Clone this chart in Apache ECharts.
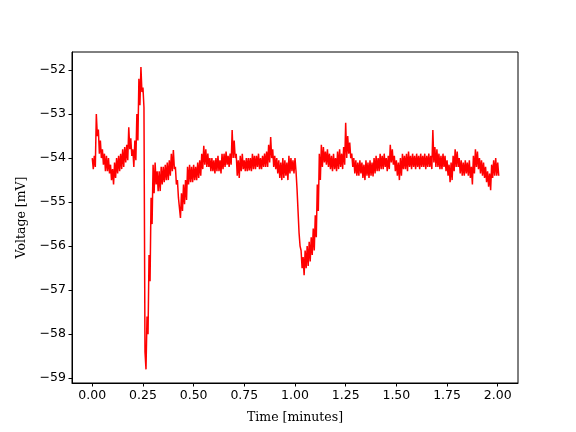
<!DOCTYPE html>
<html>
<head>
<meta charset="utf-8">
<script src="https://cdn.jsdelivr.net/npm/echarts@6/dist/echarts.min.js"></script>
<style>html,body{margin:0;padding:0;background:#fff}#c{width:576px;height:432px}</style>
</head>
<body>
<div id="c"></div>
<script>
// Time samples start at 0 and step by 0.01 minutes
const timeStart = 0;
const timeStep = 0.01;
// Upper edge of the noisy voltage trace (mV), one per time sample
const voltageHigh = [
-54.0,-53.95,-53.0,-53.35,-53.6,-53.8,-53.9,-53.95,-54.0,-54.15,
-54.25,-54.1,-54.0,-53.95,-53.9,-53.8,-53.75,-53.7,-53.3,-53.55,
-53.8,-53.6,-53.0,-52.2,-51.93,-52.4,-58.4,-57.6,-56.2,-54.9,
-54.15,-54.1,-54.3,-54.3,-54.2,-54.2,-54.15,-54.1,-54.05,-53.9,
-53.82,-54.2,-54.5,-54.9,-54.8,-54.6,-54.5,-54.2,-54.15,-54.2,
-54.15,-54.2,-54.1,-54.05,-53.9,-53.72,-53.8,-53.9,-54.0,-54.0,
-54.05,-54.0,-53.95,-54.05,-53.9,-53.9,-53.85,-53.95,-53.9,-53.36,
-53.6,-53.9,-54.05,-53.95,-53.9,-54.05,-54.0,-54.0,-54.0,-53.9,
-53.95,-53.95,-53.9,-54.0,-53.95,-53.9,-53.85,-53.7,-53.52,-53.8,
-53.95,-54.0,-54.05,-54.1,-54.0,-54.05,-54.1,-53.95,-54.0,-54.05,
-54.0,-54.7,-55.7,-56.1,-56.25,-56.1,-56.0,-55.9,-55.8,-55.6,
-55.3,-54.6,-53.9,-53.7,-53.75,-53.85,-53.8,-53.9,-53.95,-53.9,
-54.0,-53.85,-53.8,-53.9,-53.75,-53.2,-53.5,-53.65,-53.9,-54.0,
-54.05,-54.1,-54.05,-54.1,-54.15,-54.05,-54.1,-54.05,-54.1,-54.0,
-53.95,-54.0,-53.9,-53.95,-53.9,-54.0,-53.95,-53.7,-53.8,-53.95,
-54.05,-54.1,-54.0,-53.9,-53.95,-53.9,-53.85,-53.95,-53.9,-53.95,
-53.9,-53.95,-53.9,-53.95,-53.9,-53.95,-53.9,-53.95,-53.36,-53.75,
-53.8,-53.9,-53.95,-53.9,-53.95,-54.05,-54.15,-54.1,-53.95,-53.8,
-53.85,-54.0,-54.05,-54.1,-54.05,-54.1,-54.05,-54.2,-53.95,-53.8,
-53.85,-54.0,-54.05,-54.1,-54.2,-54.3,-54.35,-54.15,-54.05,-54.0,
-54.1
];
// Lower edge of the noisy voltage trace (mV), one per time sample
const voltageLow = [
-54.25,-54.2,-53.5,-53.9,-54.0,-54.15,-54.3,-54.3,-54.35,-54.5,
-54.6,-54.45,-54.35,-54.3,-54.25,-54.2,-54.1,-54.05,-53.8,-53.95,
-54.2,-54.05,-53.6,-52.8,-52.5,-52.85,-58.8,-58.0,-56.8,-55.5,
-54.8,-54.6,-54.75,-54.75,-54.6,-54.55,-54.5,-54.5,-54.4,-54.3,
-54.25,-54.6,-54.9,-55.36,-55.2,-55.05,-54.95,-54.6,-54.55,-54.55,
-54.5,-54.5,-54.45,-54.4,-54.25,-54.15,-54.2,-54.2,-54.3,-54.3,
-54.35,-54.3,-54.3,-54.35,-54.25,-54.2,-54.15,-54.2,-54.15,-54.0,
-54.0,-54.4,-54.45,-54.3,-54.25,-54.3,-54.3,-54.28,-54.3,-54.25,
-54.25,-54.2,-54.25,-54.25,-54.2,-54.2,-54.2,-54.1,-54.0,-54.2,
-54.25,-54.35,-54.45,-54.5,-54.45,-54.4,-54.5,-54.35,-54.3,-54.35,
-54.3,-55.2,-56.0,-56.5,-56.66,-56.5,-56.45,-56.35,-56.2,-56.1,
-55.8,-55.2,-54.5,-54.2,-54.1,-54.15,-54.2,-54.25,-54.3,-54.25,
-54.3,-54.25,-54.2,-54.25,-54.15,-54.0,-53.9,-54.0,-54.2,-54.35,
-54.4,-54.4,-54.35,-54.45,-54.5,-54.4,-54.45,-54.4,-54.42,-54.35,
-54.3,-54.3,-54.25,-54.25,-54.2,-54.3,-54.25,-54.1,-54.15,-54.3,
-54.4,-54.5,-54.4,-54.25,-54.25,-54.3,-54.2,-54.25,-54.2,-54.25,
-54.2,-54.25,-54.2,-54.2,-54.25,-54.2,-54.2,-54.25,-54.1,-54.2,
-54.2,-54.25,-54.25,-54.2,-54.3,-54.4,-54.55,-54.5,-54.3,-54.2,
-54.2,-54.35,-54.4,-54.4,-54.35,-54.4,-54.45,-54.6,-54.35,-54.2,
-54.25,-54.35,-54.4,-54.45,-54.55,-54.65,-54.73,-54.45,-54.4,-54.4,
-54.4
];
// Tick labels
const xTicks = [0, 0.25, 0.5, 0.75, 1.0, 1.25, 1.5, 1.75, 2.0];
const yTicks = [-59, -58, -57, -56, -55, -54, -53, -52];

const traceData = [];
for (let i = 0; i < voltageHigh.length; i++) {
  const t = timeStart + i * timeStep;
  traceData.push([t, voltageHigh[i]]);
  traceData.push([t + timeStep / 2, voltageLow[i]]);
}

const tickFont = {fontFamily: 'DejaVu Sans', fontSize: 12.5, color: '#000'};
const nameFont = {fontFamily: 'DejaVu Serif', fontSize: 12.5, color: '#000'};
const chart = echarts.init(document.getElementById('c'), null, {renderer: 'canvas'});
chart.setOption({
  animation: false,
  backgroundColor: '#fff',
  grid: {left: 72, right: 58, top: 52, bottom: 49, show: true, borderColor: '#000', borderWidth: 1, backgroundColor: 'transparent'},
  xAxis: {
    type: 'value', min: -0.1, max: 2.1,
    name: 'Time [minutes]', nameLocation: 'middle', nameGap: 28,
    nameTextStyle: nameFont,
    axisLine: {show: true, onZero: false, lineStyle: {color: '#000', width: 1}},
    axisTick: {show: true, length: 3.5, inside: false, customValues: xTicks, lineStyle: {color: '#000', width: 1}},
    axisLabel: Object.assign({show: true, margin: 6, customValues: xTicks, formatter: v => v.toFixed(2)}, tickFont),
    splitLine: {show: false}
  },
  yAxis: {
    type: 'value', min: -59.11, max: -51.59,
    name: 'Voltage [mV]', nameLocation: 'middle', nameGap: 43, nameRotate: 90,
    nameTextStyle: nameFont,
    axisLine: {show: true, onZero: false, lineStyle: {color: '#000', width: 1}},
    axisTick: {show: true, length: 3.5, inside: false, customValues: yTicks, lineStyle: {color: '#000', width: 1}},
    axisLabel: Object.assign({show: true, margin: 6, customValues: yTicks, formatter: v => String(v).replace('-', '\u2212')}, tickFont),
    splitLine: {show: false}
  },
  series: [{
    type: 'line', data: traceData, showSymbol: false, symbol: 'none', sampling: null,
    lineStyle: {color: '#ff0000', width: 1.5}, clip: true
  }]
});
</script>
</body>
</html>
